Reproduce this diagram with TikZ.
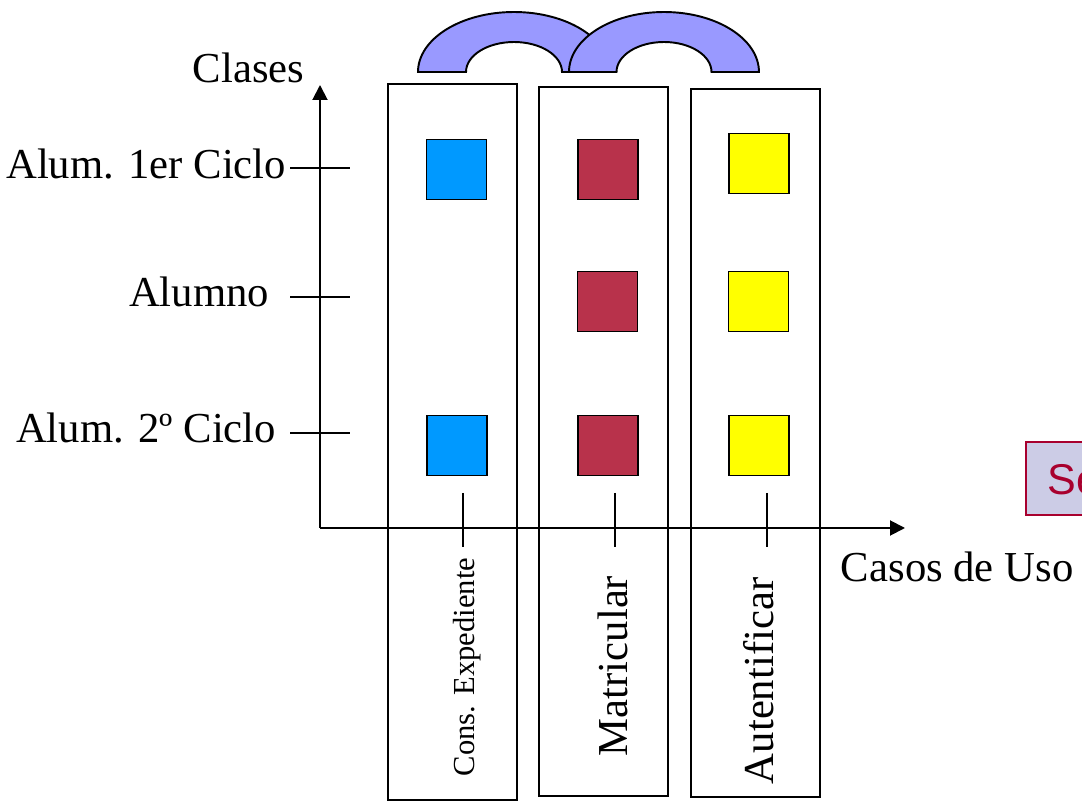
\documentclass[tikz,border=0pt]{standalone}
\usepackage{fontspec}
\setmainfont{Liberation Serif}
\newfontfamily\sansfnt{Liberation Sans}
\usepackage{tikz}
\usetikzlibrary{arrows.meta,positioning}

\definecolor{cuBlue}{HTML}{0099FF}
\definecolor{cuRed}{HTML}{B8324B}
\definecolor{cuYellow}{HTML}{FFFF00}
\definecolor{arcFill}{HTML}{9999FF}
\definecolor{seFill}{HTML}{CCCCE6}
\definecolor{seRed}{HTML}{A8002E}

\begin{document}
\begin{tikzpicture}[x=0.02cm,y=-0.02cm,line width=1.1pt,
  font=\fontsize{24.3}{29}\selectfont,
  cell/.style={draw,minimum size=1.2cm,inner sep=0pt},
  lbl/.style={inner sep=0pt},
  axis/.style={-{Triangle[length=3mm,width=3mm]}}]
\useasboundingbox (0,0) rectangle (1082,803);
\clip (0,0) rectangle (1082,803);
% columns
\draw (388,84) rectangle (517,800);
\draw (539,87) rectangle (668,796);
\draw (691,89) rectangle (820,797);
% arcs
\draw [fill=arcFill] (418,72) arc[start angle=180,end angle=0,x radius=1.92cm,y radius=1.2cm]
  -- (562,72) arc[start angle=0,end angle=180,x radius=0.96cm,y radius=0.6cm] -- cycle;
\draw [fill=arcFill] (569,72) arc[start angle=180,end angle=0,x radius=1.9cm,y radius=1.2cm]
  -- (711.5,72) arc[start angle=0,end angle=180,x radius=0.95cm,y radius=0.6cm] -- cycle;
% axes
\coordinate (origin) at (320,528);
\coordinate (ytop) at (320,85);
\coordinate (xend) at (905,528);
\draw [axis] (origin) -- (ytop);
\draw [axis] (origin) -- (xend);
\node[lbl,anchor=base west] (clases) at (192,83) {Clases};
\node[lbl,anchor=base west] (casos) at (840,582) {Casos de Uso};
% classes
\node[lbl,anchor=base east] (c1) at (287,179) {Alum. 1er Ciclo};
\node[lbl,anchor=base east] (c2) at (270,307) {Alumno};
\node[lbl,anchor=base east] (c3) at (277,443) {Alum. 2º Ciclo};
\coordinate (c1a) at (290,168); \coordinate (c1b) at (350,168);
\coordinate (c2a) at (290,297); \coordinate (c2b) at (350,297);
\coordinate (c3a) at (290,433); \coordinate (c3b) at (350,433);
\draw (c1a) -- (c1b);
\draw (c2a) -- (c2b);
\draw (c3a) -- (c3b);
% use cases
\coordinate (u1a) at (463,493); \coordinate (u1b) at (463,547);
\coordinate (u2a) at (615,493); \coordinate (u2b) at (615,547);
\coordinate (u3a) at (767,493); \coordinate (u3b) at (767,547);
\draw (u1a) -- (u1b);
\draw (u2a) -- (u2b);
\draw (u3a) -- (u3b);
\node[lbl,rotate=90,anchor=base west,font=\fontsize{17.4}{21}\selectfont] (u1) at (474,777) {Cons. Expediente};
\node[lbl,rotate=90,anchor=base west] (u2) at (627,757) {Matricular};
\node[lbl,rotate=90,anchor=base west] (u3) at (773,785) {Autentificar};
% cells
\node[cell,fill=cuBlue] (b1) at (456.5,169.5) {};
\node[cell,fill=cuBlue] (b3) at (457,445.5) {};
\node[cell,fill=cuRed] (r1) at (608,169.5) {};
\node[cell,fill=cuRed] (r2) at (607.5,301.5) {};
\node[cell,fill=cuRed] (r3) at (608,445.5) {};
\node[cell,fill=cuYellow] (y1) at (759,163.5) {};
\node[cell,fill=cuYellow] (y2) at (758.5,301.5) {};
\node[cell,fill=cuYellow] (y3) at (759,445.5) {};
% note
\draw [draw=seRed,fill=seFill,line width=0.8pt] (1026,442) rectangle (1100,515);
\node[lbl,anchor=base west,text=seRed,font=\sansfnt\fontsize{24.5}{29}\selectfont] (se) at (1047,495) {Se};
\end{tikzpicture}
\end{document}
